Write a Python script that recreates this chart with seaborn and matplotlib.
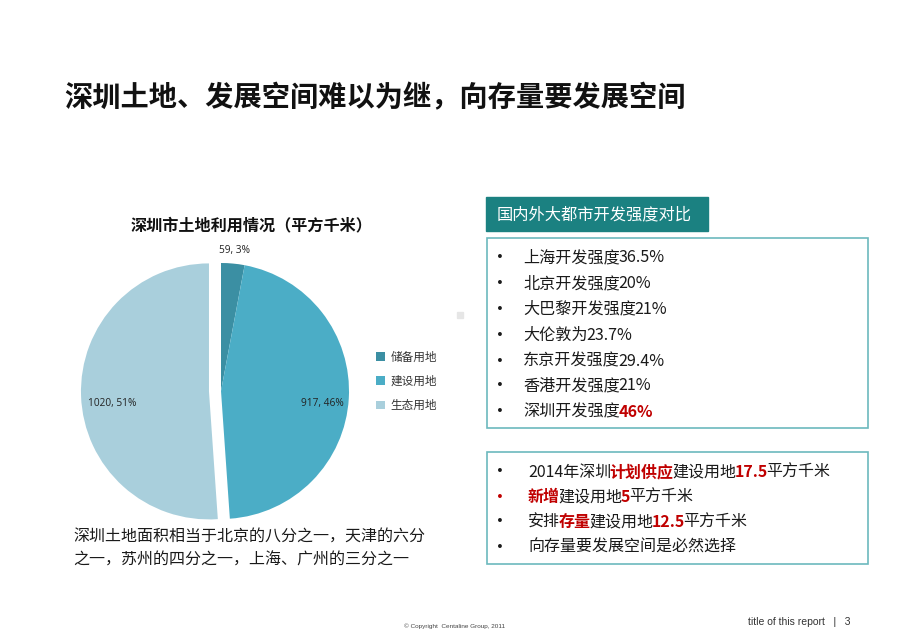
import matplotlib
matplotlib.use("Agg")
import matplotlib.pyplot as plt
import seaborn as sns
import numpy as np
from matplotlib.patches import Rectangle

sns.set_theme(style="white")
plt.rcParams['font.family'] = ['Noto Sans CJK SC', 'DejaVu Sans']

# ---------------- data ----------------
page_title = "深圳土地、发展空间难以为继，向存量要发展空间"
pie_title = "深圳市土地利用情况（平方千米）"
land_categories = ["储备用地", "建设用地", "生态用地"]
land_values = [59, 917, 1020]
land_colors = ["#3b8fa3", "#4badc6", "#a9cfdc"]

compare_header = "国内外大都市开发强度对比"
compare_names = ["上海开发强度", "北京开发强度", "大巴黎开发强度", "大伦敦为",
                 "东京开发强度", "香港开发强度", "深圳开发强度"]
compare_values = ["36.5%", "20%", "21%", "23.7%", "29.4%", "21%", "46%"]

supply_lines = [
    [("2014年深圳", "k"), ("计划供应", "r"), ("建设用地", "k"), ("17.5", "r"), ("平方千米", "k")],
    [("新增", "r"), ("建设用地", "k"), ("5", "r"), ("平方千米", "k")],
    [("安排", "k"), ("存量", "r"), ("建设用地", "k"), ("12.5", "r"), ("平方千米", "k")],
    [("向存量要发展空间是必然选择", "k")],
]
supply_bullet_red = [False, True, False, False]

note_lines = ["深圳土地面积相当于北京的八分之一，天津的六分",
              "之一，苏州的四分之一，上海、广州的三分之一"]

W, H = 920, 637
RED = "#c00000"
TEAL = "#1b8181"
BORDER = "#6cb9be"

fig = plt.figure(figsize=(W / 100, H / 100), dpi=100)
fig.patch.set_facecolor("white")
renderer = fig.canvas.get_renderer()


def fx(px):
    return px / W


def fy(py):
    return 1 - py / H


def rich(x, y, segments, size, normal_color="#1a1a1a"):
    for s, c in segments:
        red = c == "r"
        t = fig.text(fx(x), fy(y), s, fontsize=size, va="center", ha="left",
                     color=RED if red else normal_color,
                     fontweight="bold" if red else "normal")
        bb = t.get_window_extent(renderer)
        x += bb.width - 1.5


def bullet(x, y, color="#1a1a1a"):
    fig.text(fx(x), fy(y), "•", fontsize=9.5, va="center", ha="left",
             color=color, family=["DejaVu Sans"])


# page title
fig.text(fx(64), fy(98), page_title, fontsize=20.3, fontweight="bold",
         va="center", ha="left", color="#111111")

# ---------------- pie ----------------
R = 128
cx, cy = 221, 391
half = 1.1 * R
ax = fig.add_axes([fx(cx - half), fy(cy + half), 2 * half / W, 2 * half / H])
total = sum(land_values)
wedges, _ = ax.pie(land_values, colors=land_colors, startangle=90,
                   counterclock=False, explode=[0, 0, 0.094],
                   wedgeprops=dict(linewidth=0))
ax.set_xlim(-1.1, 1.1)
ax.set_ylim(-1.1, 1.1)
ax.set_aspect("equal")
ax.axis("off")

label_dist = [1.1, 0.79, 0.76]
label_dy = [0, -0.05, -0.065]
for w, v, d, ddy in zip(wedges, land_values, label_dist, label_dy):
    mid = np.deg2rad((w.theta1 + w.theta2) / 2)
    ox, oy = w.center
    ax.text(ox + d * np.cos(mid), oy + d * np.sin(mid) + ddy,
            f"{v}, {round(v / total * 100)}%", fontsize=7.3, ha="center",
            va="center", color="#222222", family=["Open Sans", "DejaVu Sans"])

fig.text(fx(252), fy(225), pie_title, fontsize=11.6, fontweight="bold",
         ha="center", va="center", color="#111111")

leg = fig.legend(wedges, land_categories, loc="upper left",
                 bbox_to_anchor=(fx(366), fy(340)), frameon=False,
                 fontsize=8.4, handlelength=0.7, handleheight=0.7,
                 handletextpad=0.5, labelspacing=0.95)
for t in leg.get_texts():
    t.set_color("#333333")

# small grey mark
fig.patches.append(Rectangle((fx(457), fy(318)), 6 / W, 6 / H,
                             transform=fig.transFigure, color="#e6e6e6"))

# ---------------- right boxes ----------------
fig.patches.append(Rectangle((fx(486), fy(231)), (708 - 486) / W, (231 - 197) / H,
                             transform=fig.transFigure, color=TEAL))
fig.text(fx(497), fy(215), compare_header, fontsize=11.7, color="white",
         va="center", ha="left")

fig.patches.append(Rectangle((fx(487), fy(428)), (868 - 487) / W, (428 - 238) / H,
                             transform=fig.transFigure, fill=False,
                             edgecolor=BORDER, linewidth=1.2))
ys1 = [258, 284, 309, 335, 361, 386, 412]
for i, (n, v, y) in enumerate(zip(compare_names, compare_values, ys1)):
    bullet(496, y)
    last = i == len(compare_names) - 1
    rich(523, y, [(n, "k"), (v, "r" if last else "k")], 11.6)

fig.patches.append(Rectangle((fx(487), fy(564)), (868 - 487) / W, (564 - 452) / H,
                             transform=fig.transFigure, fill=False,
                             edgecolor=BORDER, linewidth=1.2))
ys2 = [472, 497, 522, 547]
for segs, red_b, y in zip(supply_lines, supply_bullet_red, ys2):
    bullet(496, y, RED if red_b else "#1a1a1a")
    rich(528, y, segs, 11.5)

# ---------------- note ----------------
for line, y in zip(note_lines, [537, 560]):
    fig.text(fx(73), fy(y), line, fontsize=11.5, va="center", ha="left",
             color="#1a1a1a")

# ---------------- footer ----------------
fig.text(fx(404), fy(626), "© Copyright  Centaline Group, 2011", fontsize=4.6,
         family=["Liberation Sans", "DejaVu Sans"], va="center", ha="left",
         color="#444444")
fig.text(fx(748), fy(622), "title of this report   |   3", fontsize=7.5,
         family=["Liberation Sans", "DejaVu Sans"], va="center", ha="left",
         color="#333333")

fig.savefig("out.png", dpi=100, facecolor="white")
